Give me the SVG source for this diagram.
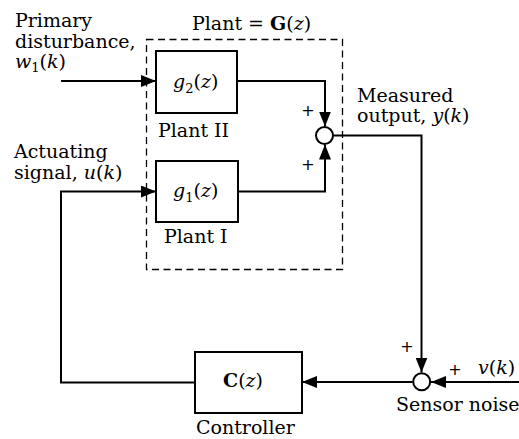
<svg xmlns="http://www.w3.org/2000/svg" width="519" height="439" viewBox="0 0 519 439">
<defs>
<marker id="ah" markerUnits="userSpaceOnUse" markerWidth="15" markerHeight="12" refX="15" refY="6" orient="auto"><path d="M0,0 L15,6 L0,12 z" fill="#000"/></marker>
<style>
text{font-family:"DejaVu Serif","Liberation Serif",serif;font-size:19px;fill:#000}
.i{font-style:italic}
.b{font-weight:bold}
.sub{font-size:13px}
.pl{font-family:"DejaVu Sans","Liberation Sans",sans-serif;font-size:16px;text-anchor:middle}
.box{fill:#fff;stroke:#000;stroke-width:2}
.w{fill:none;stroke:#000;stroke-width:2}
.sum{fill:#fff;stroke:#000;stroke-width:2}
</style>
</defs>
<rect width="519" height="439" fill="#fff"/>
<g id="plant-boundary">
<rect x="146.5" y="39.5" width="196" height="230" fill="none" stroke="#000" stroke-width="1.3" stroke-dasharray="7,4.5"/>
<text x="192" y="29.5">Plant = <tspan class="b">G</tspan>(<tspan class="i">z</tspan>)</text>
</g>
<g id="connectors">
<path class="w" d="M61,81 H156" marker-end="url(#ah)"/>
<path class="w" d="M237,81 H325 V126.5" marker-end="url(#ah)"/>
<path class="w" d="M238,191.5 H325 V144.5" marker-end="url(#ah)"/>
<path class="w" d="M333.5,135.5 H421.5 V372.5" marker-end="url(#ah)"/>
<path class="w" d="M519,382 H431" marker-end="url(#ah)"/>
<path class="w" d="M412.5,382 H302" marker-end="url(#ah)"/>
<path class="w" d="M195,382.5 H61 V191.5 H156" marker-end="url(#ah)"/>
</g>
<g id="plant2">
<rect class="box" x="156" y="51" width="81" height="62"/>
<text x="173" y="87.5"><tspan class="i">g</tspan><tspan class="sub" dy="5">2</tspan><tspan dy="-5">(</tspan><tspan class="i">z</tspan>)</text>
<text x="158" y="137">Plant II</text>
</g>
<g id="plant1">
<rect class="box" x="156" y="161" width="82" height="61"/>
<text x="173" y="197"><tspan class="i">g</tspan><tspan class="sub" dy="5">1</tspan><tspan dy="-5">(</tspan><tspan class="i">z</tspan>)</text>
<text x="164" y="243">Plant I</text>
</g>
<g id="sum1">
<circle class="sum" cx="324.5" cy="135.5" r="8.5"/>
<text class="pl" x="308" y="116">+</text>
<text class="pl" x="308" y="170">+</text>
</g>
<g id="controller">
<rect class="box" x="195" y="352" width="107" height="61"/>
<text x="223" y="387"><tspan class="b">C</tspan>(<tspan class="i">z</tspan>)</text>
<text x="196" y="434">Controller</text>
</g>
<g id="sum2">
<circle class="sum" cx="421.7" cy="381.7" r="8.5"/>
<text class="pl" x="407" y="352">+</text>
<text class="pl" x="455" y="375">+</text>
<text x="396" y="411">Sensor noise</text>
</g>
<g id="labels">
<text x="15" y="26.5">Primary</text>
<text x="15" y="48">disturbance,</text>
<text x="15" y="68"><tspan class="i">w</tspan><tspan class="sub" dy="4">1</tspan><tspan dy="-4">(</tspan><tspan class="i">k</tspan>)</text>
<text x="14" y="158">Actuating</text>
<text x="14" y="179">signal, <tspan class="i">u</tspan>(<tspan class="i">k</tspan>)</text>
<text x="357" y="102">Measured</text>
<text x="357" y="122">output, <tspan class="i">y</tspan>(<tspan class="i">k</tspan>)</text>
<text x="478" y="374"><tspan class="i">v</tspan>(<tspan class="i">k</tspan>)</text>
</g>
</svg>
